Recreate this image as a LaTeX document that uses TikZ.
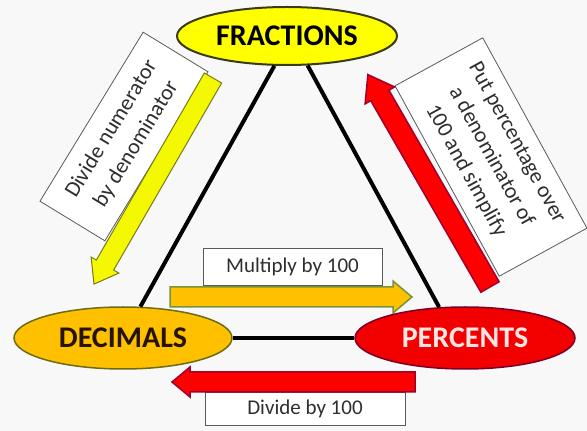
\documentclass[tikz,border=0pt]{standalone}
\usepackage{fontspec}
\setmainfont{Carlito}
\usetikzlibrary{calc,shapes.geometric}
\definecolor{bgc}{HTML}{F8F8F8}
\definecolor{fracfill}{HTML}{FFFF00}
\definecolor{fracdraw}{HTML}{3A3A14}
\definecolor{decfill}{HTML}{FFC000}
\definecolor{decdraw}{HTML}{6B6B18}
\definecolor{percfill}{HTML}{F20000}
\definecolor{percdraw}{HTML}{7A0028}
\definecolor{perctext}{HTML}{FFE4E4}
\definecolor{yarrfill}{HTML}{F4F800}
\definecolor{yarrdraw}{HTML}{7A7A20}
\definecolor{oarrfill}{HTML}{FFC000}
\definecolor{oarrdraw}{HTML}{77933C}
\definecolor{rarrfill}{HTML}{FF0000}
\definecolor{rarrdraw}{HTML}{A0002A}
\definecolor{boxdraw}{HTML}{5A5A5A}
\definecolor{txt}{HTML}{2E2E2E}
% #1 style, #2 tail point, #3 angle, #4 length, #5 shaft width, #6 head width, #7 head length
\newcommand\myblockarrow[7]{%
  \begin{scope}[shift={#2},rotate=#3]
    \draw[#1] (0,-#5/2) -- ({#4-#7},-#5/2) -- ({#4-#7},-#6/2) -- (#4,0)
      -- ({#4-#7},#6/2) -- ({#4-#7},#5/2) -- (0,#5/2) -- cycle;
  \end{scope}}
\begin{document}
\begin{tikzpicture}[x=1pt,y=1pt,
  ell/.style={ellipse,inner sep=0pt,font=\fontsize{30pt}{34pt}\selectfont\bfseries},
  lblbox/.style={draw=boxdraw,line width=0.8pt,fill=white,inner sep=0pt,align=center,text=txt},
  smalltxt/.style={font=\fontsize{21pt}{25pt}\selectfont},
  diagtxt/.style={font=\fontsize{22pt}{29pt}\selectfont},
  triline/.style={line width=4pt,black},
  yarr/.style={fill=yarrfill,draw=yarrdraw,line width=1pt,line join=miter},
  oarr/.style={fill=oarrfill,draw=oarrdraw,line width=1.5pt,line join=miter},
  rarr/.style={fill=rarrfill,draw=rarrdraw,line width=1.5pt,line join=miter}]
\fill[bgc] (0,0) rectangle (587,431);
\useasboundingbox (0,0) rectangle (587,431);

% text boxes
\node[lblbox,diagtxt,minimum width=198pt,minimum height=76pt,rotate=58.6] (boxl) at (124,294.5) {Divide numerator\\by denominator};
\node[lblbox,diagtxt,minimum width=217pt,minimum height=100pt,rotate=-61.3] (boxr) at (491,274) {Put percentage over\\a denominator of\\100 and simplify};
\node[lblbox,smalltxt,minimum width=179pt,minimum height=37pt] (boxm) at (292.5,164.5) {Multiply by 100};
\node[lblbox,smalltxt,minimum width=200pt,minimum height=33pt] (boxd) at (305,22.5) {Divide by 100};

% block arrows
\myblockarrow{yarr}{(213,353)}{240}{238}{20}{32}{22}
\myblockarrow{rarr}{(490,144)}{119.9}{245}{21}{34}{24}
\myblockarrow{oarr}{(170,134)}{0}{242}{20}{32}{19}
\myblockarrow{rarr}{(415,49)}{180}{243}{20}{30}{18}

% ellipses
\node[ell,fill=fracfill,draw=fracdraw,line width=2pt,minimum width=220pt,minimum height=58pt,text=black] (frac) at (287,395) {FRACTIONS};
\node[ell,fill=decfill,draw=decdraw,line width=1.5pt,minimum width=218pt,minimum height=62pt,text=black!85!orange] (dec) at (123,93) {DECIMALS};
\node[ell,fill=percfill,draw=percdraw,line width=1.5pt,minimum width=220pt,minimum height=62pt,text=perctext] (perc) at (465,93) {PERCENTS};

% triangle
\draw[triline] (frac.247) -- (dec.61);
\draw[triline] (frac.305) -- (perc.130);
\draw[triline] (dec.east) -- (perc.west);
\end{tikzpicture}
\end{document}
